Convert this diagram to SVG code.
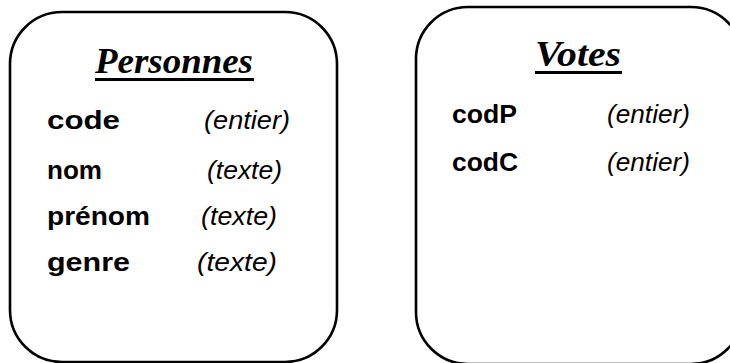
<svg xmlns="http://www.w3.org/2000/svg" width="730" height="363" viewBox="0 0 730 363">
<style>
.box{fill:#fff;stroke:#000;stroke-width:2.6}
.title{font-family:"Liberation Serif",serif;font-weight:bold;font-style:italic;font-size:36px;fill:#000}
.attr{font-family:"Liberation Sans",Arial,sans-serif;font-weight:bold;font-size:25px;fill:#000}
.type{font-family:"Liberation Sans",Arial,sans-serif;font-style:italic;font-size:25px;fill:#000}
.ul{fill:#000}
</style>
<rect width="730" height="363" fill="#fff"/>
<g id="personnes">
<rect class="box" x="10" y="12" width="327" height="350" rx="52" ry="52"/>
<text class="title" x="95" y="73" textLength="158" lengthAdjust="spacingAndGlyphs">Personnes</text>
<rect class="ul" x="95" y="78" width="159" height="3"/>
<text class="attr" x="47" y="129" textLength="73" lengthAdjust="spacingAndGlyphs">code</text>
<text class="type" x="204" y="129" textLength="86" lengthAdjust="spacingAndGlyphs">(entier)</text>
<text class="attr" x="47" y="179" textLength="55" lengthAdjust="spacingAndGlyphs">nom</text>
<text class="type" x="207" y="179" textLength="75" lengthAdjust="spacingAndGlyphs">(texte)</text>
<text class="attr" x="47" y="225" textLength="103" lengthAdjust="spacingAndGlyphs">prénom</text>
<text class="type" x="201" y="225" textLength="76" lengthAdjust="spacingAndGlyphs">(texte)</text>
<text class="attr" x="47" y="271" textLength="83" lengthAdjust="spacingAndGlyphs">genre</text>
<text class="type" x="197" y="271" textLength="80" lengthAdjust="spacingAndGlyphs">(texte)</text>
</g>
<g id="votes">
<rect class="box" x="416" y="7" width="327" height="357" rx="52" ry="52"/>
<text class="title" x="535" y="66" textLength="86" lengthAdjust="spacingAndGlyphs">Votes</text>
<rect class="ul" x="535" y="71" width="87" height="3"/>
<text class="attr" x="452" y="123" textLength="65" lengthAdjust="spacingAndGlyphs">codP</text>
<text class="type" x="607" y="123" textLength="83" lengthAdjust="spacingAndGlyphs">(entier)</text>
<text class="attr" x="452" y="171" textLength="66" lengthAdjust="spacingAndGlyphs">codC</text>
<text class="type" x="607" y="171" textLength="83" lengthAdjust="spacingAndGlyphs">(entier)</text>
</g>
<g id="connectors"></g>
</svg>
